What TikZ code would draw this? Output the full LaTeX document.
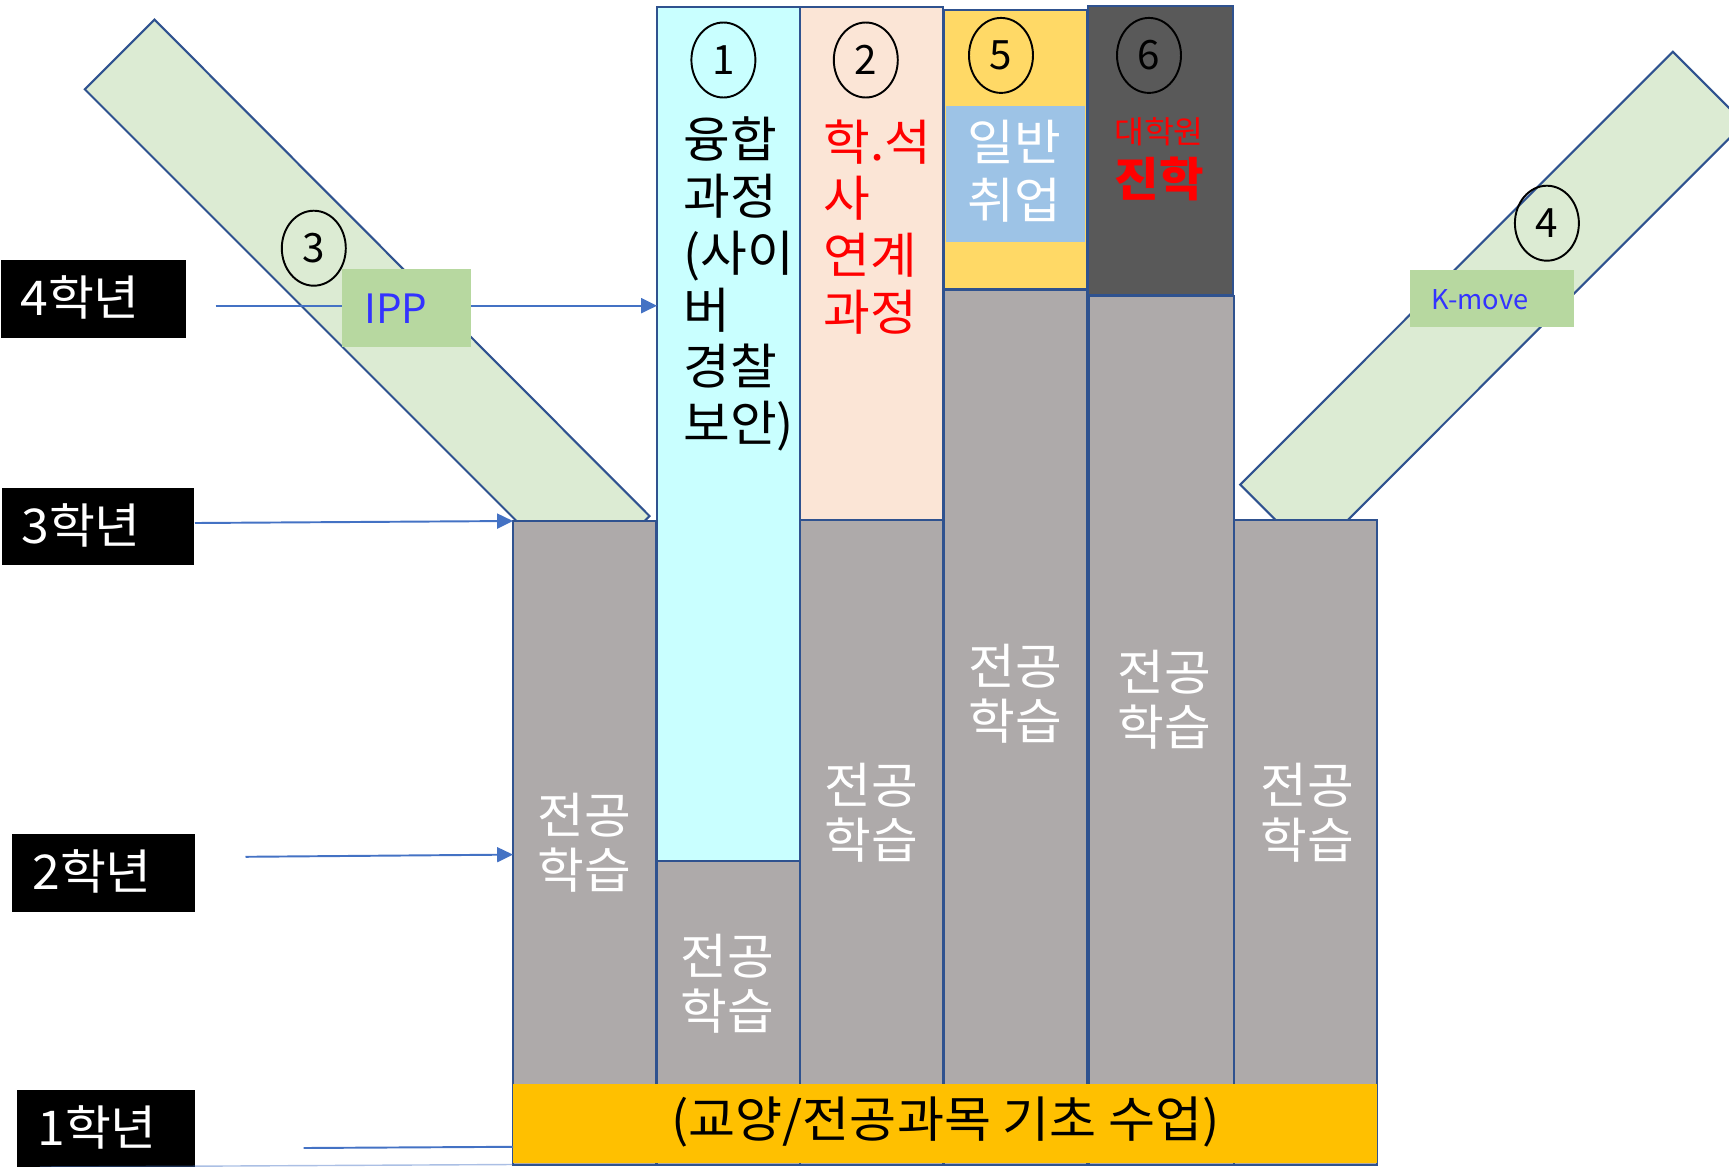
\documentclass[tikz,border=0pt]{standalone}
\usepackage{fontspec}
\setmainfont[FakeStretch=1.04]{Noto Sans CJK KR}
\newfontfamily\lat{Noto Sans CJK KR}
\usetikzlibrary{shapes.geometric,arrows.meta,fit}
\definecolor{bandgreen}{HTML}{DCEBD3}
\definecolor{edgeblue}{HTML}{2F528F}
\definecolor{ippgreen}{HTML}{B7D8A0}
\definecolor{graybox}{HTML}{AEAAAA}
\definecolor{cyanbox}{HTML}{C9FFFF}
\definecolor{peachbox}{HTML}{FBE5D6}
\definecolor{goldbox}{HTML}{FFD966}
\definecolor{bluebox}{HTML}{9DC3E6}
\definecolor{darkbox}{HTML}{595959}
\definecolor{barbox}{HTML}{FFC000}
\definecolor{arrowblue}{HTML}{4472C4}
\definecolor{textblue}{HTML}{3333FF}
\begin{document}
\begin{tikzpicture}[x=0.02cm,y=-0.02cm,
  band/.style={draw=edgeblue, fill=bandgreen, line width=1.2pt},
  box/.style={draw=edgeblue, line width=1.5pt, inner sep=0pt, outer sep=0pt},
  plain/.style={inner sep=0pt, outer sep=0pt},
  circ/.style={ellipse, draw=black, line width=1.1pt, minimum width=1.28cm, minimum height=1.5cm, inner sep=0pt, font=\lat\fontsize{23}{27}\selectfont},
  big/.style={inner sep=0pt, anchor=west, align=left, font=\fontsize{27.8}{32.4}\selectfont},
  major/.style={inner sep=0pt, text=white, align=center, font=\fontsize{27.8}{31.3}\selectfont},
  year/.style={inner sep=0pt, text=white, anchor=west, font=\fontsize{27.3}{30}\selectfont},
  lab/.style={fill=black, inner sep=0pt, outer sep=0pt},
  arr/.style={draw=arrowblue, line width=1.1pt, -{Triangle[length=9pt,width=8.5pt]}},
  conn/.style={draw=arrowblue, line width=1.1pt},
]
\useasboundingbox (0,0) rectangle (1729,1167);
\clip (0,0) rectangle (1729,1167);

% diagonal bands
\draw[band] (154.5,19.6) -- (649.5,516) -- (580.5,585) -- (84.8,89.3) -- cycle;
\draw[band] (1672.8,51.8) -- (1744.3,123.3) -- (1311.7,556.1) -- (1240.2,484.6) -- cycle;

% year labels
\node[lab, fit={(1,260)(186,337.5)}] (y4) {};
\node[lab, fit={(2,488)(194,565)}] (y3) {};
\node[lab, fit={(12,834)(195,911.5)}] (y2) {};
\node[lab, fit={(16.5,1090)(195,1167)}] (y1) {};
\node[year] (t4) at (20,297) {4학년};
\node[year] (t3) at (21,525) {3학년};
\node[year] (t2) at (32,871) {2학년};
\node[year] (t1) at (37,1127) {1학년};

% columns
\node[box, fill=graybox, fit={(513,521)(656,1165)}] (g1) {};
\node[box, fill=cyanbox, fit={(657,7)(800,861)}] (cy) {};
\node[box, fill=graybox, fit={(657,861)(800,1165)}] (g2) {};
\node[box, fill=peachbox, fit={(800,7)(943,520)}] (pe) {};
\node[box, fill=graybox, fit={(800,520)(943,1165)}] (g3) {};
\node[box, fill=goldbox, fit={(944,10)(1087,289)}] (go) {};
\node[plain, fill=bluebox, fit={(946,106)(1085,242)}] (bl) {};
\node[box, fill=graybox, fit={(944,290)(1087,1165)}] (g4) {};
\node[box, fill=darkbox, fit={(1088,6)(1233,295)}] (dk) {};
\node[box, fill=graybox, fit={(1089,296)(1234,1165)}] (g5) {};
\node[box, fill=graybox, fit={(1234,520)(1377,1165)}] (g6) {};
\node[plain, fill=barbox, fit={(513,1084)(1377,1163)}] (bar) {};

% arrows
\coordinate (a4s) at (215.6,305.7);
\coordinate (a3s) at (195,523);
\coordinate (a2s) at (245.5,856.8);
\coordinate (a2e) at (513,854.6);
\coordinate (a1s) at (303.6,1148);
\coordinate (a1e) at (513,1146.8);
\coordinate (a0s) at (40,1167);
\coordinate (a0e) at (513,1164.5);
\draw[arr] (a4s) -- (cy.west |- a4s);
\draw[arr] (a3s) -- (g1.north west);
\draw[arr] (a2s) -- (a2e);
\draw[conn] (a1s) -- (a1e);
\draw[conn, draw opacity=0.45, line width=0.8pt] (a0s) -- (a0e);

% IPP and K-move
\node[plain, fill=ippgreen, fit={(342,269)(471,347)}] (ipp) {};
\node[inner sep=0pt, anchor=west, text=textblue, font=\lat\fontsize{23}{28}\selectfont] (ippt) at (364,309) {IPP};
\node[plain, fill=ippgreen, fit={(1410,270)(1574,327)}] (km) {};
\node[inner sep=0pt, anchor=west, text=textblue, font=\lat\fontsize{15.5}{19}\selectfont] (kmt) at (1431,300) {K-move};

% circled numbers
\node[circ] (c1) at (723.4,60) {1};
\node[circ] (c2) at (865.8,60) {2};
\node[circ] (c5) at (1001,55.4) {5};
\node[circ] (c6) at (1149,55.4) {6};
\node[circ] (c3) at (313.8,248.2) {3};
\node[circ] (c4) at (1546.9,223.2) {4};

% column texts
\node[big] (cyt) at (683,284) {융합\\과정\\(사이\\버\\경찰\\보안)};
\node[big, text=red] (pet) at (823,227) {학.석\\사\\연계\\과정};
\node[major, font=\fontsize{27.8}{33}\selectfont] (blt) at (1014,171) {일반\\취업};
\node[inner sep=0pt, text=red, font=\fontsize{17.8}{20}\selectfont] (dkt1) at (1159,132) {대학원};
\node[inner sep=0pt, text=red, font=\bfseries\fontsize{26.5}{30}\selectfont] (dkt2) at (1159.5,178.6) {진학};

\node[major] (g1t) at (584.7,842.5) {전공\\학습};
\node[major] (g2t) at (727,983.5) {전공\\학습};
\node[major] (g3t) at (871,813) {전공\\학습};
\node[major] (g4t) at (1015,693.5) {전공\\학습};
\node[major] (g5t) at (1164,700) {전공\\학습};
\node[major] (g6t) at (1307,813) {전공\\학습};

\node[inner sep=0pt, font=\fontsize{28}{32}\selectfont] (bart) at (945.5,1121.8) {(교양/전공과목 기초 수업)};
\end{tikzpicture}
\end{document}
